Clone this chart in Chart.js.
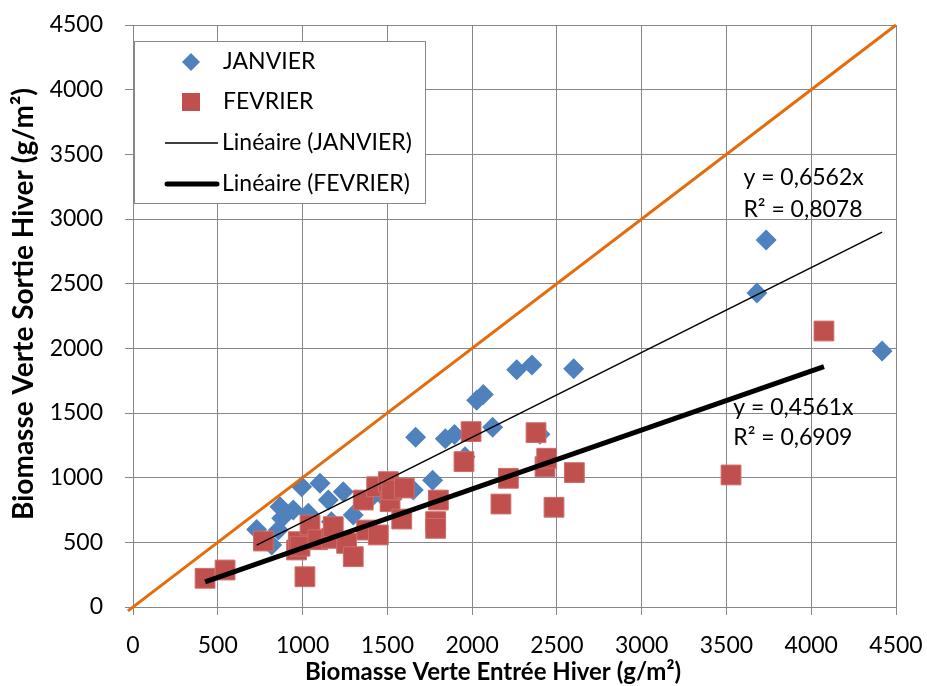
<!DOCTYPE html>
<html><head><meta charset="utf-8">
<script src="https://cdn.jsdelivr.net/npm/chart.js@4.4.0/dist/chart.umd.min.js"></script>
<style>html,body{margin:0;padding:0;background:#fff;}canvas{display:block;}</style>
</head><body>
<canvas id="c" width="927" height="686"></canvas>
<script>
// ---- data ----
const janX = [729, 818, 857, 867, 877, 945, 995, 1034, 1103, 1152, 1170, 1240, 1299, 1400, 1457, 1653, 1667, 1767, 1842, 1896, 1958, 2027, 2066, 2121, 2263, 2353, 2400, 2599, 3680, 3734, 4418];
const janY = [600, 479, 595, 776, 686, 750, 930, 724, 956, 827, 660, 892, 711, 840, 880, 905, 1312, 980, 1300, 1333, 1162, 1598, 1643, 1389, 1835, 1871, 1335, 1843, 2428, 2838, 1979];
const fevX = [425, 543, 769, 965, 975, 985, 1014, 1044, 1090, 1171, 1181, 1260, 1299, 1358, 1378, 1437, 1447, 1506, 1516, 1526, 1585, 1600, 1785, 1785, 1801, 1952, 1994, 2170, 2214, 2377, 2430, 2440, 2483, 2603, 3527, 4075];
const fevY = [222, 286, 510, 441, 505, 470, 234, 634, 520, 531, 621, 492, 389, 827, 595, 930, 557, 969, 814, 905, 680, 920, 660, 608, 827, 1124, 1356, 796, 995, 1348, 1085, 1150, 771, 1039, 1021, 2134];
const janSlope = 0.6562, janR2 = 0.8078;
const fevSlope = 0.4561, fevR2 = 0.6909;
const refLine = [-30, 4500];          // y = x reference line
const axisMin = 0, axisMax = 4500, axisStep = 500;
const seriesNames = ['JANVIER', 'FEVRIER', 'Linéaire (JANVIER)', 'Linéaire (FEVRIER)'];
const xTitle = 'Biomasse Verte Entrée Hiver (g/m²)';
const yTitle = 'Biomasse Verte Sortie Hiver (g/m²)';

const BLUE = '#4F81BD', RED = '#C0504D', ORANGE = '#E46C0A', GRID = '#878787';
const FONT = 'Lato, Carlito, Calibri, sans-serif';
const target = {left: 133, top: 25, right: 896, bottom: 607};
let yAxisW = 133, xAxisH = 79;

const pts = (xs, ys) => xs.map((x, i) => ({x, y: ys[i]}));
const trend = (xs, k) => { const a = Math.min(...xs), b = Math.max(...xs); return [{x: a, y: k * a}, {x: b, y: k * b}]; };
const fmt = v => v.toFixed(4).replace('.', ',');

const overlay = {
  id: 'overlay',
  afterDraw(chart) {
    const ctx = chart.ctx, xs = chart.scales.x, ys = chart.scales.y, ca = chart.chartArea;
    ctx.save();
    // trendline equations
    ctx.fillStyle = '#000';
    ctx.font = '23px ' + FONT;
    ctx.textAlign = 'left'; ctx.textBaseline = 'middle';
    ctx.fillText('y = ' + fmt(janSlope) + 'x', xs.getPixelForValue(3600), ys.getPixelForValue(3317));
    ctx.fillText('R² = ' + fmt(janR2), xs.getPixelForValue(3600), ys.getPixelForValue(3070));
    ctx.fillText('y = ' + fmt(fevSlope) + 'x', xs.getPixelForValue(3540), ys.getPixelForValue(1539));
    ctx.fillText('R² = ' + fmt(fevR2), xs.getPixelForValue(3540), ys.getPixelForValue(1307));
    // legend
    const L = ca.left + 1, T = 41, W = 291, H = 162;
    ctx.fillStyle = '#fff';
    ctx.fillRect(L, T, W, H);
    ctx.strokeStyle = GRID; ctx.lineWidth = 1;
    ctx.strokeRect(L + 0.5, T + 0.5, W, H);
    const mx = L + 57, tx = L + 89;
    const rows = [T + 21, T + 61, T + 102, T + 143];
    ctx.fillStyle = BLUE;
    ctx.beginPath();
    ctx.moveTo(mx, rows[0] - 9); ctx.lineTo(mx + 9, rows[0]); ctx.lineTo(mx, rows[0] + 9); ctx.lineTo(mx - 9, rows[0]); ctx.closePath(); ctx.fill();
    ctx.fillStyle = RED;
    ctx.fillRect(mx - 9, rows[1] - 9, 18, 18);
    ctx.strokeStyle = '#000';
    ctx.lineWidth = 1.5; ctx.lineCap = 'butt';
    ctx.beginPath(); ctx.moveTo(L + 31, rows[2]); ctx.lineTo(L + 84, rows[2]); ctx.stroke();
    ctx.lineWidth = 5; ctx.lineCap = 'round';
    ctx.beginPath(); ctx.moveTo(L + 33, rows[3]); ctx.lineTo(L + 83, rows[3]); ctx.stroke();
    ctx.fillStyle = '#000'; ctx.font = '23px ' + FONT;
    ctx.fillText(seriesNames[0], tx, rows[0]);
    ctx.fillText(seriesNames[1], tx, rows[1]);
    ctx.fillText(seriesNames[2], tx - 1, rows[2]);
    ctx.fillText(seriesNames[3], tx - 1, rows[3]);
    // axis titles
    ctx.font = 'bold 24px ' + FONT;
    ctx.textAlign = 'center'; ctx.textBaseline = 'alphabetic';
    ctx.fillText(xTitle, 493, 680);
    ctx.font = 'bold 28px ' + FONT;
    ctx.translate(33, (ca.top + ca.bottom) / 2 - 12);
    ctx.rotate(-Math.PI / 2);
    ctx.fillText(yTitle, 0, 0);
    ctx.restore();
  }
};

const scaleOpts = (isX) => ({
  type: 'linear', min: axisMin, max: axisMax,
  grid: {color: GRID, lineWidth: 1, tickLength: 8, tickColor: GRID},
  border: {color: GRID, width: 1},
  ticks: {stepSize: axisStep, color: '#000', font: {family: FONT, size: 23}, padding: isX ? 17 : 22,
          callback: v => String(v)},
  afterFit: s => {
    if (isX) { s.height = xAxisH; s.paddingLeft = 0; s.paddingRight = 0; }
    else { s.width = yAxisW; s.paddingTop = 0; s.paddingBottom = 0; }
  }
});

function draw() {
  const chart = new Chart(document.getElementById('c'), {
    type: 'scatter',
    data: {
      datasets: [
        {label: 'ref', data: refLine.map(v => ({x: v, y: v})), showLine: true, borderColor: ORANGE, borderWidth: 3, pointRadius: 0, clip: false, order: 0},
        {label: seriesNames[3], data: trend(fevX, fevSlope), showLine: true, borderColor: '#000', borderWidth: 5, pointRadius: 0, order: 1},
        {label: seriesNames[2], data: trend(janX, janSlope), showLine: true, borderColor: '#000', borderWidth: 1.5, pointRadius: 0, order: 2},
        {label: seriesNames[1], data: pts(fevX, fevY), pointStyle: 'rect', pointRadius: 14, backgroundColor: RED, borderColor: 'rgba(205,110,108,1)', borderWidth: 1, order: 3},
        {label: seriesNames[0], data: pts(janX, janY), pointStyle: 'rectRot', pointRadius: 10.5, backgroundColor: BLUE, borderColor: BLUE, borderWidth: 0, order: 4}
      ]
    },
    options: {
      responsive: false, animation: false,
      layout: {padding: {left: 0, top: 25, right: 31, bottom: 0}},
      plugins: {legend: {display: false}, tooltip: {enabled: false}},
      scales: {x: scaleOpts(true), y: scaleOpts(false)}
    },
    plugins: [overlay]
  });
  // nudge layout so the plot area lands on the reference's pixel box
  for (let k = 0; k < 3; k++) {
    const ca = chart.chartArea, p = chart.config.options.layout.padding;
    const dT = target.top - ca.top, dR = ca.right - target.right, dL = target.left - ca.left, dB = ca.bottom - target.bottom;
    if (Math.abs(dT) + Math.abs(dR) + Math.abs(dL) + Math.abs(dB) < 0.5) break;
    p.top += dT; p.right += dR; yAxisW += dL; xAxisH += dB;
    chart.update();
  }
}
(document.fonts && document.fonts.load ? document.fonts.load('23px Lato').then(draw, draw) : draw());
</script>
</body></html>
